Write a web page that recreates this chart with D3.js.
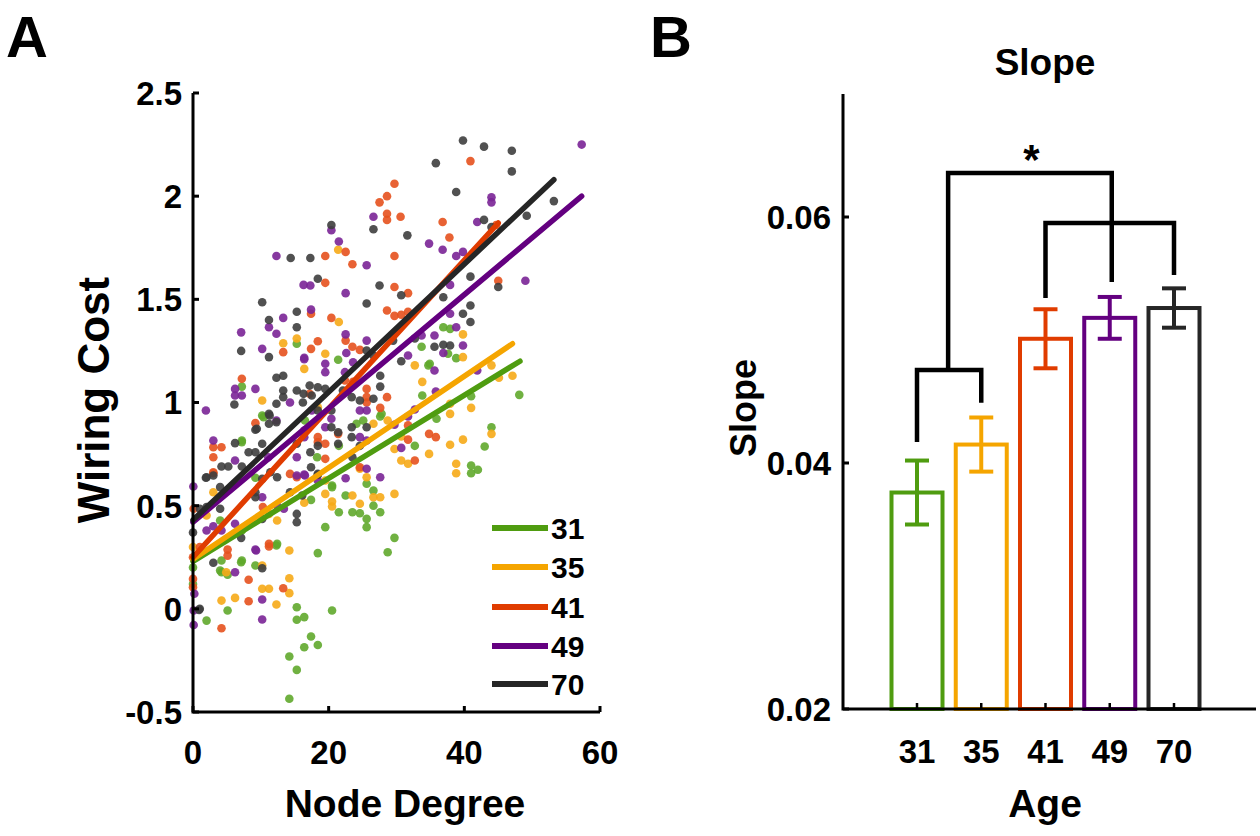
<!DOCTYPE html>
<html><head><meta charset="utf-8">
<script src="https://cdn.jsdelivr.net/npm/d3@7"></script>
<style>body{margin:0;background:#fff}svg{display:block}text{font-family:"Liberation Sans",Arial,sans-serif;font-weight:bold;fill:#000}</style>
</head><body><svg id="c" width="1260" height="836"></svg>
<script>
// ---------- Panel A data ----------
const ages = ["31","35","41","49","70"];
const lineColors = ["#4f9c10","#f5a500","#e03c00","#640080","#262626"];
const dotColors  = ["#5fa82c","#f6aa18","#e6521c","#7a2596","#3d3d3d"];
const xTicksA = [0,20,40,60];
const yTicksA = [-0.5,0,0.5,1,1.5,2,2.5];
const yTickLabelsA = ["-0.5","0","0.5","1","1.5","2","2.5"];
// fitted lines: [x0, y0, x1, y1]
const fit31 = [0,0.23,48.2,1.20];
const fit35 = [0,0.24,47.1,1.285];
const fit41 = [0,0.25,45.0,1.87];
const fit49 = [0,0.42,57.3,2.00];
const fit70 = [0,0.43,53.2,2.08];
// scatter points [node degree, wiring cost]
const pts31 = [[48.1,1.037],[36.9,1.365],[37.9,1.357],[33.7,1.27],[38.8,1.215],[21.4,1.207],[34.7,1.18],[33.8,1.034],[41.0,1.03],[44.0,0.88],[43.0,0.787],[41.0,0.695],[42.0,0.674],[41.0,0.657],[32.7,0.79],[27.8,0.945],[27.6,0.932],[26.6,0.573],[26.6,0.50],[27.6,0.468],[23.5,0.468],[24.6,0.463],[21.5,0.468],[22.5,0.549],[20.5,0.598],[17.4,0.528],[25.6,0.436],[25.6,0.396],[19.5,0.396],[25.6,0.606],[18.3,0.735],[29.7,0.344],[28.7,0.274],[18.4,0.27],[12.3,0.307],[4.2,0.234],[7.1,0.226],[9.2,0.21],[4.2,0.177],[5.1,0.165],[15.3,0.008],[5.1,-0.008],[15.3,-0.053],[16.4,-0.04],[20.5,-0.008],[2.0,-0.057],[17.4,-0.134],[16.4,-0.186],[18.4,-0.175],[14.2,-0.231],[15.3,-0.296],[14.2,-0.436],[7.2,1.077],[10.2,0.937],[7.2,0.808],[9.2,0.635],[7.2,0.38],[12.4,0.315],[21.5,0.79],[20.5,0.59],[15.3,1.285],[16.5,0.913],[25.1,0.913],[24.1,0.897],[10.4,0.929],[7.2,0.816],[4.0,0.428],[4.0,0.186],[7.2,0.234],[35.9,0.921],[34.9,1.188],[37.6,1.236],[0,0.2],[0,0.12]];
const pts35 = [[21.4,1.74],[21.5,1.39],[19.5,1.236],[39.8,1.33],[39.8,1.22],[47.1,1.13],[32.7,1.18],[45.1,1.12],[44.0,1.18],[33.8,1.10],[37.9,0.994],[37.9,0.945],[41.0,0.974],[44.0,0.848],[39.8,0.82],[37.9,0.795],[38.8,0.703],[38.8,0.657],[34.8,0.751],[30.7,0.719],[31.7,0.703],[29.7,0.775],[30.7,0.835],[28.7,0.913],[26.6,0.541],[27.6,0.541],[29.7,0.557],[24.6,0.509],[20.5,0.52],[20.5,0.496],[23.5,0.549],[19.5,0.557],[16.4,0.514],[25.6,0.638],[24.6,0.679],[19.5,0.622],[14.2,0.283],[10.2,0.21],[14.2,0.148],[10.2,0.097],[11.2,0.097],[14.2,0.076],[4.2,0.04],[6.2,0.053],[12.3,0.021],[10.2,1.01],[3.0,0.565],[11.2,0.46],[12.4,0.428],[2.0,0.452],[4.9,0.177],[13.3,1.287],[15.3,1.31],[16.4,1.163],[18.4,0.977],[26.6,0.897],[0,0.3]];
const pts41 = [[40.9,2.17],[29.7,2.06],[28.6,2.00],[27.5,1.97],[28.6,1.915],[28.6,1.885],[30.6,1.90],[36.8,1.875],[44.7,1.86],[37.8,1.80],[22.5,1.73],[19.5,1.71],[29.7,1.71],[23.5,1.67],[19.5,1.58],[29.7,1.56],[31.7,1.53],[45.0,1.59],[28.6,1.446],[29.7,1.42],[30.7,1.425],[31.7,1.44],[17.4,1.43],[20.4,1.41],[22.5,1.30],[23.5,1.27],[24.6,1.255],[18.4,1.297],[17.4,1.26],[34.8,0.848],[35.8,0.832],[32.7,0.719],[31.7,0.82],[31.7,0.889],[28.6,1.026],[27.6,0.974],[24.6,0.686],[19.5,0.727],[11.2,0.302],[5.1,0.287],[5.1,0.258],[8.2,0.141],[13.3,0.10],[8.2,0.037],[4.2,-0.094],[9.2,0.90],[3.0,0.783],[4.2,0.783],[3.0,0.735],[3.0,0.657],[0.1,0.485],[10.3,0.493],[11.2,0.315],[14.3,0.654],[15.3,0.638],[18.4,0.808],[19.5,0.80],[7.2,1.115],[13.3,1.244],[22.4,1.107],[23.6,1.10],[25.6,1.066],[25.6,1.026],[25.6,1.00],[17.2,1.042],[18.4,0.832],[21.4,0.848],[1.0,0.30],[0,0.25],[0,0.145],[0,0.105],[3.0,0.662]];
const pts49 = [[57.3,2.25],[44.0,1.995],[44.0,1.97],[26.6,1.90],[20.4,1.835],[41.9,1.875],[21.5,1.78],[34.8,1.77],[36.8,1.74],[38.8,1.71],[39.8,1.73],[25.6,1.665],[16.3,1.57],[17.3,1.567],[22.5,1.53],[49.0,1.59],[37.9,1.57],[17.4,1.45],[37.9,1.43],[38.8,1.365],[33.7,1.325],[35.6,1.325],[36.9,1.24],[39.8,1.276],[22.5,1.33],[25.6,1.30],[16.4,1.21],[31.7,1.228],[22.6,1.24],[41.9,1.155],[35.6,1.155],[35.8,1.053],[30.7,0.78],[31.7,0.932],[32.7,0.966],[29.7,0.892],[27.6,0.638],[25.6,0.679],[22.5,0.633],[16.4,0.651],[9.2,0.287],[6.2,0.177],[10.2,0.045],[0.1,-0.008],[10.2,-0.052],[0.1,-0.078],[0.2,0.073],[6.2,1.066],[7.2,1.034],[6.2,1.034],[9.2,1.066],[1.9,0.961],[14.3,1.00],[12.3,0.913],[3.0,0.816],[6.2,0.719],[11.1,0.735],[10.2,0.541],[12.4,0.50],[13.4,0.485],[3.0,0.40],[4.2,0.38],[6.2,0.412],[15.3,0.646],[16.5,0.646],[18.4,0.622],[15.3,0.735],[12.3,1.71],[13.3,1.41],[11.2,1.365],[12.3,1.333],[7.1,1.34],[10.2,1.26],[16.4,1.217],[0.05,0.593],[2.0,0.38],[9.3,0.283],[19.5,1.188],[19.5,1.147],[22.4,1.147],[23.6,1.195],[25.6,0.961],[24.6,0.961],[24.6,0.832],[25.6,0.816],[20.4,0.921],[19.5,0.88],[17.5,0.961],[16.4,0.864],[16.4,0.832]];
const pts70 = [[39.8,2.27],[42.9,2.24],[47.0,2.22],[35.8,2.16],[47.0,2.12],[38.8,2.02],[53.2,1.976],[26.6,1.84],[20.4,1.86],[42.9,1.885],[49.2,1.905],[44.0,1.85],[31.6,1.81],[17.3,1.70],[14.4,1.70],[18.4,1.60],[27.5,1.567],[30.7,1.52],[25.6,1.48],[40.9,1.61],[45.0,1.56],[36.9,1.51],[40.9,1.47],[39.8,1.43],[40.9,1.39],[32.7,1.31],[35.6,1.27],[36.9,1.28],[37.9,1.276],[29.5,1.30],[25.6,1.252],[26.6,1.228],[30.7,1.20],[27.6,1.077],[27.6,1.13],[23.5,0.735],[17.4,0.686],[18.4,0.65],[7.1,0.344],[3.0,0.223],[10.2,0.197],[0.9,-0.005],[6.1,0.99],[13.3,1.058],[13.3,1.026],[12.3,0.994],[9.2,0.868],[11.2,0.945],[11.2,0.897],[6.2,0.803],[4.2,0.69],[5.2,0.69],[1.9,0.635],[8.2,0.759],[9.2,0.759],[10.2,0.80],[7.2,0.69],[10.2,0.63],[4.0,0.59],[5.0,0.573],[9.2,0.565],[9.2,0.541],[4.0,0.485],[11.4,0.662],[12.4,0.638],[10.2,0.436],[15.3,0.42],[14.3,0.565],[16.1,0.549],[15.3,0.46],[15.3,0.80],[17.3,0.759],[18.4,0.654],[10.2,1.486],[15.3,1.44],[11.2,1.40],[15.3,1.365],[7.1,1.25],[11.2,1.22],[12.3,1.12],[13.3,1.13],[15.3,1.058],[16.3,1.042],[11.3,0.937],[12.3,0.905],[9.4,0.873],[2.0,0.638],[3.0,0.646],[1.0,0.485],[2.0,0.493],[1.0,0],[0,0.37],[17.2,1.082],[18.4,1.074],[16.2,1.00],[17.5,1.034],[18.4,0.961],[20.4,0.961],[22.1,1.058],[23.4,1.026],[24.6,1.01],[26.6,1.018],[25.6,0.88],[23.4,0.88],[23.4,0.832],[24.6,0.79],[20.4,0.88],[21.4,0.856],[18.4,0.79],[21.4,0.80],[19.5,1.066]];

// ---------- Panel B data ----------
const slopeMeans = [0.0376,0.0415,0.0501,0.0518,0.0526];
const slopeErrs  = [0.0026,0.0022,0.0024,0.0017,0.0016];
const yTicksB = [0.02,0.04,0.06];
// significance brackets (values on slope axis)
const lowBracket = {legL:0.0417, legR:0.0449, top:0.04756};
const highBracket = {legL:0.05341, legR:0.05528, top:0.05951};
const topBracket = {top:0.06358, legR:0.05472};
const starLevel = 0.0656;

const svg = d3.select("#c");
const TICK_FS = 33, TITLE_FS = 39, LEG_FS = 30;

// ================= Panel A =================
const xA = d3.scaleLinear().domain([0,60]).range([193,600]);
const yA = d3.scaleLinear().domain([-0.5,2.5]).range([712,93]);
const gA = svg.append("g");

const defs = svg.append("defs");
defs.append("filter").attr("id","soft").append("feGaussianBlur").attr("stdDeviation",0.6);

const series = [pts31,pts35,pts41,pts49,pts70];
const fits = [fit31,fit35,fit41,fit49,fit70];
series.forEach((pts,i)=>{
  gA.append("g").attr("filter","url(#soft)").selectAll("circle").data(pts).join("circle")
    .attr("cx",d=>xA(d[0])).attr("cy",d=>yA(d[1])).attr("r",4.3)
    .attr("fill",dotColors[i]).attr("fill-opacity",0.9);
});
fits.forEach((f,i)=>{
  gA.append("line").attr("x1",xA(f[0])).attr("y1",yA(f[1])).attr("x2",xA(f[2])).attr("y2",yA(f[3]))
    .attr("stroke",lineColors[i]).attr("stroke-width",5.5).attr("stroke-linecap","round");
});

// axes A
const axA = gA.append("g");
axA.append("path").attr("d",`M${xA(0)},${yA(2.5)}V${yA(-0.5)}H${xA(60)}`).attr("fill","none").attr("stroke","#000").attr("stroke-width",3);
yTicksA.forEach((t,i)=>{
  axA.append("line").attr("x1",xA(0)).attr("x2",xA(0)+6).attr("y1",yA(t)).attr("y2",yA(t)).attr("stroke","#000").attr("stroke-width",3);
  axA.append("text").attr("x",xA(0)-11).attr("y",yA(t)).attr("dy","0.36em").attr("text-anchor","end")
    .attr("font-size",TICK_FS).text(yTickLabelsA[i]);
});
xTicksA.forEach(t=>{
  axA.append("line").attr("x1",xA(t)).attr("x2",xA(t)).attr("y1",yA(-0.5)).attr("y2",yA(-0.5)-6).attr("stroke","#000").attr("stroke-width",3);
  axA.append("text").attr("x",xA(t)).attr("y",752).attr("dy","0.36em").attr("text-anchor","middle")
    .attr("font-size",TICK_FS).text(t);
});
gA.append("text").attr("x",405).attr("y",803).attr("dy","0.36em").attr("text-anchor","middle").attr("font-size",TITLE_FS).text("Node Degree");
gA.append("text").attr("transform","translate(93,400) rotate(-90)").attr("dy","0.36em").attr("text-anchor","middle").attr("font-size",44).text("Wiring Cost");

// legend
const legY = [528,567,607,646,684];
ages.forEach((a,i)=>{
  gA.append("line").attr("x1",492).attr("x2",548).attr("y1",legY[i]).attr("y2",legY[i]).attr("stroke",lineColors[i]).attr("stroke-width",6);
  gA.append("text").attr("x",551).attr("y",legY[i]).attr("dy","0.36em").attr("font-size",LEG_FS).text(a);
});
svg.append("text").attr("x",6).attr("y",57).attr("font-size",58).text("A");

// ================= Panel B =================
const xB = d3.scalePoint().domain(ages).range([917,1174]);
const yB = d3.scaleLinear().domain([0.02,0.07]).range([709,94]);
const gB = svg.append("g");
const barW = 51;

ages.forEach((a,i)=>{
  gB.append("rect").attr("x",xB(a)-barW/2).attr("y",yB(slopeMeans[i])).attr("width",barW)
    .attr("height",yB(0.02)-yB(slopeMeans[i])).attr("fill","#fff").attr("stroke",lineColors[i]).attr("stroke-width",4);
});
// axis B
gB.append("path").attr("d",`M843,${yB(0.07)}V${yB(0.02)}H1256`).attr("fill","none").attr("stroke","#000").attr("stroke-width",3);
yTicksB.forEach(t=>{
  gB.append("line").attr("x1",843).attr("x2",849).attr("y1",yB(t)).attr("y2",yB(t)).attr("stroke","#000").attr("stroke-width",3);
  gB.append("text").attr("x",831).attr("y",yB(t)).attr("dy","0.36em").attr("text-anchor","end").attr("font-size",TICK_FS).text(d3.format(".2f")(t));
});
ages.forEach((a,i)=>{
  gB.append("line").attr("x1",xB(a)).attr("x2",xB(a)).attr("y1",yB(0.02)).attr("y2",yB(0.02)-6).attr("stroke","#000").attr("stroke-width",2.5);
  gB.append("text").attr("x",xB(a)).attr("y",751).attr("dy","0.36em").attr("text-anchor","middle").attr("font-size",TICK_FS).text(a);
  // error bars
  const c = lineColors[i], lo = yB(slopeMeans[i]-slopeErrs[i]), hi = yB(slopeMeans[i]+slopeErrs[i]);
  gB.append("line").attr("x1",xB(a)).attr("x2",xB(a)).attr("y1",lo).attr("y2",hi).attr("stroke",c).attr("stroke-width",4);
  [lo,hi].forEach(y=>gB.append("line").attr("x1",xB(a)-12).attr("x2",xB(a)+12).attr("y1",y).attr("y2",y).attr("stroke",c).attr("stroke-width",4));
});
// brackets
const bk = gB.append("g").attr("fill","none").attr("stroke","#000").attr("stroke-width",4.5);
const midLow = (xB("31")+xB("35"))/2;
bk.append("path").attr("d",`M${xB("31")},${yB(lowBracket.legL)}V${yB(lowBracket.top)}H${xB("35")}V${yB(lowBracket.legR)}`);
bk.append("path").attr("d",`M${xB("41")},${yB(highBracket.legL)}V${yB(highBracket.top)}H${xB("70")}V${yB(highBracket.legR)}`);
bk.append("path").attr("d",`M${midLow-1},${yB(lowBracket.top)}V${yB(topBracket.top)}H${xB("49")+2}V${yB(topBracket.legR)}`);
gB.append("text").attr("x",(midLow+xB("49"))/2+2).attr("y",yB(starLevel)).attr("dy","0.62em").attr("text-anchor","middle").attr("font-size",42).text("*");

gB.append("text").attr("x",1045).attr("y",62).attr("dy","0.36em").attr("text-anchor","middle").attr("font-size",37).text("Slope");
gB.append("text").attr("x",1045).attr("y",803).attr("dy","0.36em").attr("text-anchor","middle").attr("font-size",TITLE_FS).text("Age");
gB.append("text").attr("transform","translate(743,408) rotate(-90)").attr("dy","0.36em").attr("text-anchor","middle").attr("font-size",36).text("Slope");
svg.append("text").attr("x",650).attr("y",57).attr("font-size",58).text("B");
</script></body></html>
